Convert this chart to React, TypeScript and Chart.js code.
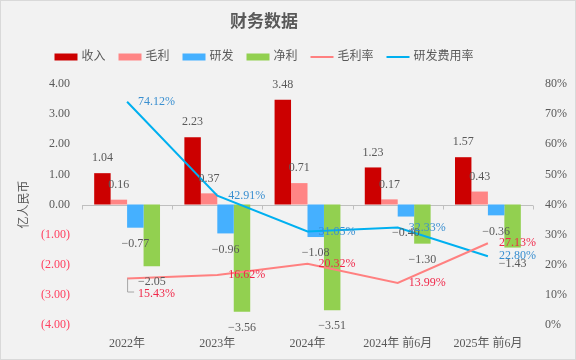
import React, { useEffect, useRef } from "react";
import { Chart, registerables } from "chart.js";

Chart.register(...registerables);

const categories = ["2022年", "2023年", "2024年", "2024年 前6月", "2025年 前6月"];
const revenue = [1.04, 2.23, 3.48, 1.23, 1.57];
const grossProfit = [0.16, 0.37, 0.71, 0.17, 0.43];
const rnd = [-0.77, -0.96, -1.08, -0.4, -0.36];
const netProfit = [-2.05, -3.56, -3.51, -1.3, -1.43];
const grossMargin = [15.43, 16.62, 20.32, 13.99, 27.13];
const rndRate = [74.12, 42.91, 31.05, 32.33, 22.8];

const SERIF = "'Liberation Serif', 'Noto Sans CJK SC', serif";
const GRAY = "#595959";
const NEG_RED = "#FF4060";

const fmtNum = (v: number) => (v < 0 ? "\u2212" + Math.abs(v).toFixed(2) : v.toFixed(2));

const decorPlugin = {
  id: "decor",
  beforeDraw(chart: any) {
    const { ctx, width, height } = chart;
    ctx.save();
    ctx.fillStyle = "#F2F2F2";
    ctx.fillRect(0, 0, width, height);
    ctx.strokeStyle = "#D9D9D9";
    ctx.lineWidth = 1;
    ctx.strokeRect(0.5, 0.5, width - 1, height - 1);
    ctx.restore();
  },
  beforeDatasetsDraw(chart: any) {
    const { ctx, chartArea } = chart;
    const y = Math.round(chart.scales.y.getPixelForValue(0)) + 0.5;
    ctx.save();
    ctx.strokeStyle = "#BFBFBF";
    ctx.lineWidth = 1;
    ctx.beginPath();
    ctx.moveTo(chartArea.left, y);
    ctx.lineTo(chartArea.right, y);
    const n = categories.length;
    for (let i = 0; i <= n; i++) {
      const x = Math.round(chartArea.left + ((chartArea.right - chartArea.left) * i) / n) + 0.5;
      ctx.moveTo(x, y);
      ctx.lineTo(x, y + 4);
    }
    ctx.stroke();
    ctx.restore();
  },
  afterDraw(chart: any) {
    const { ctx, chartArea } = chart;
    ctx.save();
    // title
    const cx = 264;
    ctx.fillStyle = GRAY;
    ctx.font = `bold 17px ${SERIF}`;
    ctx.textAlign = "center";
    ctx.textBaseline = "middle";
    ctx.fillText("财务数据", cx, 23);

    // legend
    ctx.font = `12px ${SERIF}`;
    const items = chart.data.datasets.map((ds: any) => ({
      label: ds.label,
      color: ds.type === "line" ? ds.borderColor : ds.backgroundColor,
      line: ds.type === "line",
    }));
    const boxW = 23, gapTxt = 4, gapItem = 13;
    let total = 0;
    items.forEach((it: any, i: number) => {
      total += boxW + gapTxt + ctx.measureText(it.label).width + (i < items.length - 1 ? gapItem : 0);
    });
    let x = cx - total / 2;
    const ly = 57;
    ctx.textAlign = "left";
    items.forEach((it: any) => {
      if (it.line) {
        ctx.strokeStyle = it.color;
        ctx.lineWidth = 2;
        ctx.beginPath();
        ctx.moveTo(x, ly);
        ctx.lineTo(x + boxW, ly);
        ctx.stroke();
      } else {
        ctx.fillStyle = it.color;
        ctx.fillRect(x, ly - 3.5, boxW, 7);
      }
      x += boxW + gapTxt;
      ctx.fillStyle = GRAY;
      ctx.fillText(it.label, x, ly);
      x += ctx.measureText(it.label).width + gapItem;
    });

    // y axis title
    ctx.save();
    ctx.translate(25, (chartArea.top + chartArea.bottom) / 2);
    ctx.rotate(-Math.PI / 2);
    ctx.textAlign = "center";
    ctx.fillStyle = GRAY;
    ctx.font = `12px ${SERIF}`;
    ctx.fillText("亿人民币", 0, 0);
    ctx.restore();

    // bar value labels
    ctx.font = `12px ${SERIF}`;
    ctx.textAlign = "center";
    chart.data.datasets.forEach((ds: any, di: number) => {
      if (ds.type === "line") return;
      const meta = chart.getDatasetMeta(di);
      meta.data.forEach((el: any, i: number) => {
        const v = ds.data[i];
        ctx.fillStyle = GRAY;
        const yy = v >= 0 ? el.y - 15 : el.y + 16;
        ctx.fillText(fmtNum(v), el.x, yy);
      });
    });

    // line labels
    chart.data.datasets.forEach((ds: any, di: number) => {
      if (ds.type !== "line") return;
      const meta = chart.getDatasetMeta(di);
      const isGross = ds.label === "毛利率";
      meta.data.forEach((el: any, i: number) => {
        const v = ds.data[i];
        let yy = el.y;
        const xx = el.x + 11;
        if (isGross && i === 0) {
          yy = el.y + 15;
          ctx.strokeStyle = "#A6A6A6";
          ctx.lineWidth = 1;
          ctx.beginPath();
          ctx.moveTo(el.x + 0.5, el.y);
          ctx.lineTo(el.x + 0.5, yy - 1.5);
          ctx.lineTo(el.x + 7, yy - 1.5);
          ctx.stroke();
        }
        ctx.textAlign = "left";
        ctx.fillStyle = isGross ? "#F0284A" : "#3A8FD0";
        ctx.fillText(v.toFixed(2) + "%", xx, yy);
      });
    });
    ctx.restore();
  },
};

export default function App() {
  const ref = useRef<HTMLCanvasElement>(null);
  useEffect(() => {
    document.body.style.margin = "0";
    const chart = new Chart(ref.current!, {
      type: "bar",
      data: {
        labels: categories,
        datasets: [
          { type: "bar", label: "收入", data: revenue, backgroundColor: "#CC0000", yAxisID: "y", order: 1 },
          { type: "bar", label: "毛利", data: grossProfit, backgroundColor: "#FF8585", yAxisID: "y", order: 1 },
          { type: "bar", label: "研发", data: rnd, backgroundColor: "#45B0FF", yAxisID: "y", order: 1 },
          { type: "bar", label: "净利", data: netProfit, backgroundColor: "#92D050", yAxisID: "y", order: 1 },
          {
            type: "line", label: "毛利率", data: grossMargin, borderColor: "#FF8080", backgroundColor: "#FF8080",
            borderWidth: 2, pointRadius: 0, tension: 0, yAxisID: "y1", order: 0,
          },
          {
            type: "line", label: "研发费用率", data: rndRate, borderColor: "#00B0F0", backgroundColor: "#00B0F0",
            borderWidth: 2, pointRadius: 0, tension: 0, yAxisID: "y1", order: 0,
          },
        ] as any,
      },
      options: {
        responsive: false,
        animation: false,
        layout: { padding: { top: 84, left: 0, right: 0, bottom: 0 } },
        plugins: { legend: { display: false }, title: { display: false }, tooltip: { enabled: false } },
        datasets: { bar: { barPercentage: 1, categoryPercentage: 0.73 } },
        scales: {
          x: {
            grid: { display: false, drawTicks: false },
            border: { display: false },
            ticks: { color: GRAY, font: { family: SERIF, size: 12 }, padding: 12, maxRotation: 0 },
            afterFit: (s: any) => { s.height = 35; },
          },
          y: {
            position: "left",
            min: -4,
            max: 4,
            grid: { display: false, drawTicks: false },
            border: { display: false },
            ticks: {
              stepSize: 1,
              padding: 12,
              font: { family: SERIF, size: 12 },
              color: (c: any) => (c.tick && c.tick.value < 0 ? NEG_RED : GRAY),
              callback: (v: any) => (v < 0 ? `(${Math.abs(v).toFixed(2)})` : Number(v).toFixed(2)),
            },
            afterFit: (s: any) => { s.width = 82; },
          },
          y1: {
            position: "right",
            min: 0,
            max: 80,
            grid: { display: false, drawTicks: false },
            border: { display: false },
            ticks: {
              stepSize: 10,
              padding: 12,
              font: { family: SERIF, size: 12 },
              color: GRAY,
              callback: (v: any) => `${v}%`,
            },
            afterFit: (s: any) => { s.width = 43; },
          },
        },
      } as any,
      plugins: [decorPlugin],
    });
    return () => chart.destroy();
  }, []);
  return (
    <div style={{ width: 576, height: 360 }}>
      <canvas ref={ref} width={576} height={360} />
    </div>
  );
}
